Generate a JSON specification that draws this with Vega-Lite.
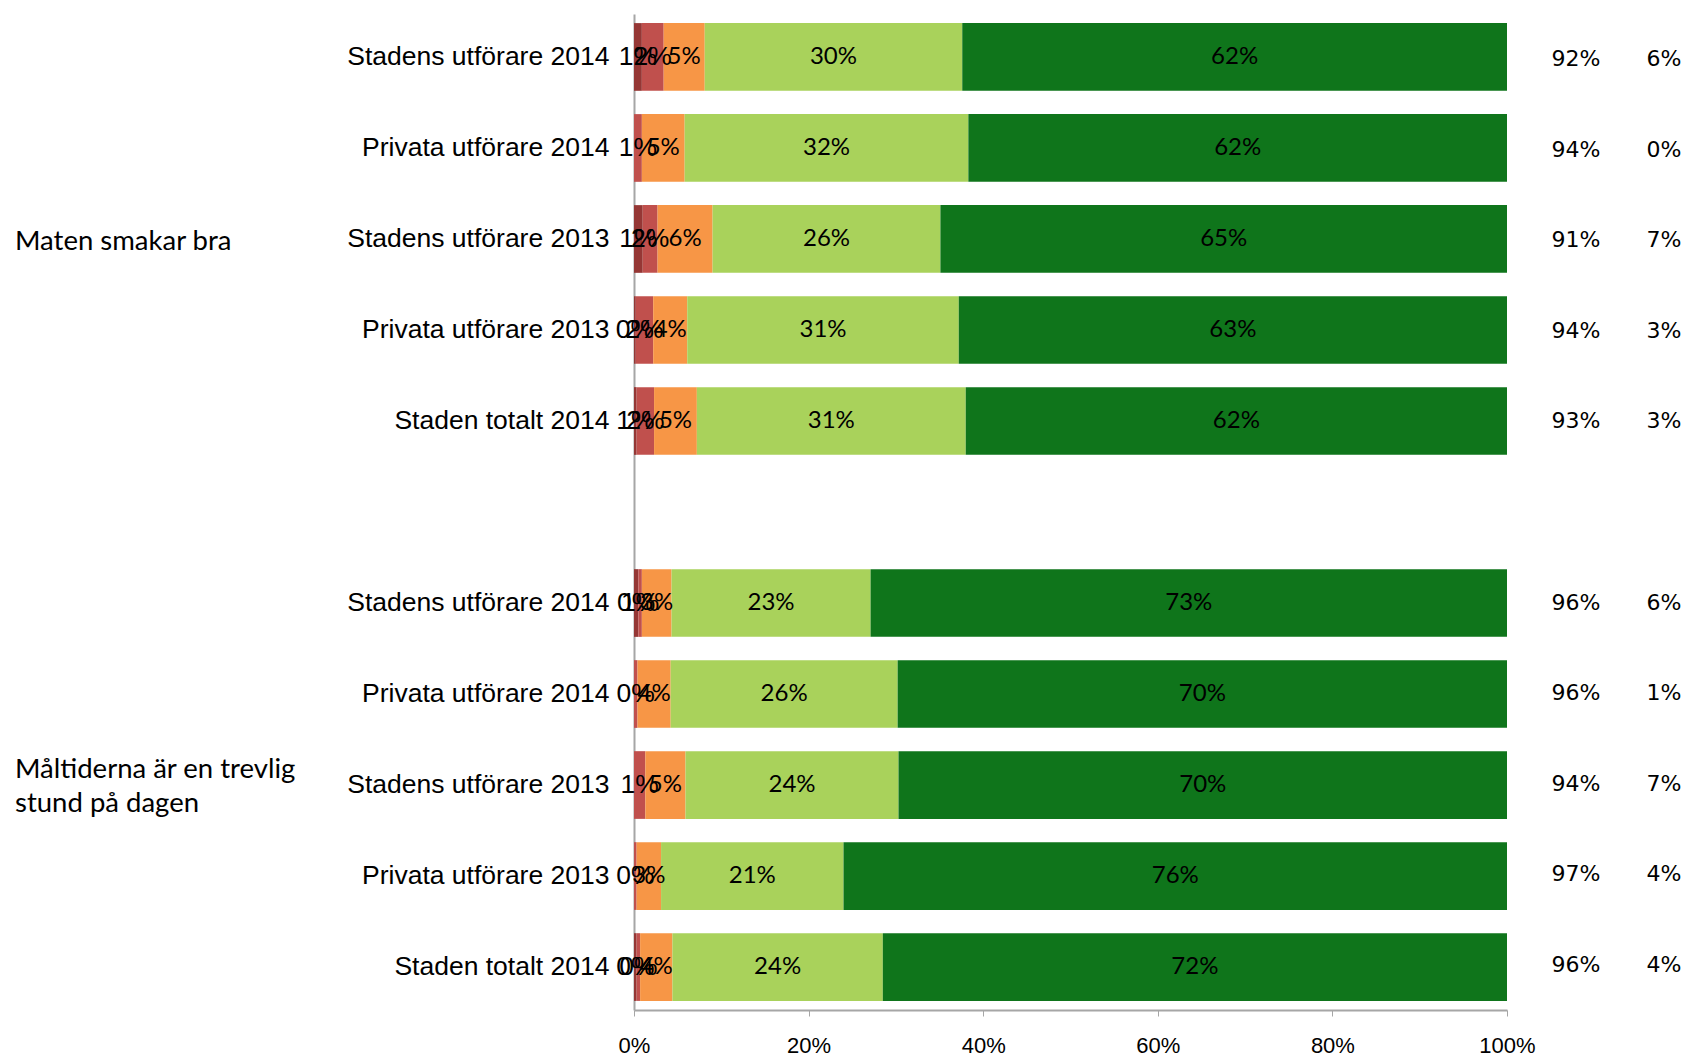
{
  "$schema": "https://vega.github.io/schema/vega-lite/v6.json",
  "padding": {"left": 0, "top": 14, "right": 0, "bottom": 0},
  "background": "white",
  "config": {"view": {"stroke": null}},
  "bounds": "full",
  "spacing": 0,
  "datasets": {
    "bars": [
      {"key": "a|Stadens utförare 2014", "cat": 1, "value": 0.9, "label": "1%"},
      {"key": "a|Stadens utförare 2014", "cat": 2, "value": 2.5, "label": "2%"},
      {"key": "a|Stadens utförare 2014", "cat": 3, "value": 4.7, "label": "5%"},
      {"key": "a|Stadens utförare 2014", "cat": 4, "value": 29.5, "label": "30%"},
      {"key": "a|Stadens utförare 2014", "cat": 5, "value": 62.4, "label": "62%"},
      {"key": "b|Privata utförare 2014", "cat": 2, "value": 0.9, "label": "1%"},
      {"key": "b|Privata utförare 2014", "cat": 3, "value": 4.9, "label": "5%"},
      {"key": "b|Privata utförare 2014", "cat": 4, "value": 32.5, "label": "32%"},
      {"key": "b|Privata utförare 2014", "cat": 5, "value": 61.7, "label": "62%"},
      {"key": "c|Stadens utförare 2013", "cat": 1, "value": 1.0, "label": "1%"},
      {"key": "c|Stadens utförare 2013", "cat": 2, "value": 1.7, "label": "2%"},
      {"key": "c|Stadens utförare 2013", "cat": 3, "value": 6.3, "label": "6%"},
      {"key": "c|Stadens utförare 2013", "cat": 4, "value": 26.1, "label": "26%"},
      {"key": "c|Stadens utförare 2013", "cat": 5, "value": 64.9, "label": "65%"},
      {"key": "d|Privata utförare 2013", "cat": 1, "value": 0.2, "label": "0%"},
      {"key": "d|Privata utförare 2013", "cat": 2, "value": 2.0, "label": "2%"},
      {"key": "d|Privata utförare 2013", "cat": 3, "value": 3.9, "label": "4%"},
      {"key": "d|Privata utförare 2013", "cat": 4, "value": 31.1, "label": "31%"},
      {"key": "d|Privata utförare 2013", "cat": 5, "value": 62.8, "label": "63%"},
      {"key": "e|Staden totalt 2014", "cat": 1, "value": 0.3, "label": "1%"},
      {"key": "e|Staden totalt 2014", "cat": 2, "value": 2.0, "label": "2%"},
      {"key": "e|Staden totalt 2014", "cat": 3, "value": 4.9, "label": "5%"},
      {"key": "e|Staden totalt 2014", "cat": 4, "value": 30.8, "label": "31%"},
      {"key": "e|Staden totalt 2014", "cat": 5, "value": 62.0, "label": "62%"},
      {"key": "g|Stadens utförare 2014", "cat": 1, "value": 0.5, "label": "0%"},
      {"key": "g|Stadens utförare 2014", "cat": 2, "value": 0.4, "label": "1%"},
      {"key": "g|Stadens utförare 2014", "cat": 3, "value": 3.4, "label": "3%"},
      {"key": "g|Stadens utförare 2014", "cat": 4, "value": 22.8, "label": "23%"},
      {"key": "g|Stadens utförare 2014", "cat": 5, "value": 72.9, "label": "73%"},
      {"key": "h|Privata utförare 2014", "cat": 2, "value": 0.4, "label": "0%"},
      {"key": "h|Privata utförare 2014", "cat": 3, "value": 3.8, "label": "4%"},
      {"key": "h|Privata utförare 2014", "cat": 4, "value": 26.0, "label": "26%"},
      {"key": "h|Privata utförare 2014", "cat": 5, "value": 69.8, "label": "70%"},
      {"key": "i|Stadens utförare 2013", "cat": 2, "value": 1.3, "label": "1%"},
      {"key": "i|Stadens utförare 2013", "cat": 3, "value": 4.6, "label": "5%"},
      {"key": "i|Stadens utförare 2013", "cat": 4, "value": 24.4, "label": "24%"},
      {"key": "i|Stadens utförare 2013", "cat": 5, "value": 69.7, "label": "70%"},
      {"key": "j|Privata utförare 2013", "cat": 2, "value": 0.3, "label": "0%"},
      {"key": "j|Privata utförare 2013", "cat": 3, "value": 2.8, "label": "3%"},
      {"key": "j|Privata utförare 2013", "cat": 4, "value": 20.9, "label": "21%"},
      {"key": "j|Privata utförare 2013", "cat": 5, "value": 76.0, "label": "76%"},
      {"key": "k|Staden totalt 2014", "cat": 1, "value": 0.3, "label": "0%"},
      {"key": "k|Staden totalt 2014", "cat": 2, "value": 0.4, "label": "0%"},
      {"key": "k|Staden totalt 2014", "cat": 3, "value": 3.7, "label": "4%"},
      {"key": "k|Staden totalt 2014", "cat": 4, "value": 24.1, "label": "24%"},
      {"key": "k|Staden totalt 2014", "cat": 5, "value": 71.5, "label": "72%"}
    ],
    "totals": [
      {"key": "a|Stadens utförare 2014", "positive": "92%", "other": "6%"},
      {"key": "b|Privata utförare 2014", "positive": "94%", "other": "0%"},
      {"key": "c|Stadens utförare 2013", "positive": "91%", "other": "7%"},
      {"key": "d|Privata utförare 2013", "positive": "94%", "other": "3%"},
      {"key": "e|Staden totalt 2014", "positive": "93%", "other": "3%"},
      {"key": "g|Stadens utförare 2014", "positive": "96%", "other": "6%"},
      {"key": "h|Privata utförare 2014", "positive": "96%", "other": "1%"},
      {"key": "i|Stadens utförare 2013", "positive": "94%", "other": "7%"},
      {"key": "j|Privata utförare 2013", "positive": "97%", "other": "4%"},
      {"key": "k|Staden totalt 2014", "positive": "96%", "other": "4%"}
    ],
    "groups": [
      {"key": "c|Stadens utförare 2013", "label": "Maten smakar bra"},
      {"key": "i|Stadens utförare 2013", "label": "Måltiderna är en trevlig\nstund på dagen"}
    ]
  },
  "hconcat": [
    {
      "bounds": "flush",
      "spacing": 604,
      "hconcat": [
        {
          "width": 30,
          "height": 996,
          "data": {"name": "groups"},
          "encoding": {
            "y": {"field": "key", "type": "nominal", "axis": null,
              "scale": {"domain": ["a|Stadens utförare 2014", "b|Privata utförare 2014", "c|Stadens utförare 2013", "d|Privata utförare 2013", "e|Staden totalt 2014", "f|", "g|Stadens utförare 2014", "h|Privata utförare 2014", "i|Stadens utförare 2013", "j|Privata utförare 2013", "k|Staden totalt 2014"], "paddingInner": 0.256, "paddingOuter": 0.1}},
            "text": {"field": "label"}
          },
          "layer": [
            {
              "transform": [{"filter": "datum.key === 'c|Stadens utförare 2013'"}],
              "mark": {"type": "text", "align": "left", "baseline": "middle", "font": "Lato", "fontSize": 27.5, "dy": 2, "color": "black"}
            },
            {
              "transform": [{"filter": "datum.key === 'i|Stadens utförare 2013'"}],
              "mark": {"type": "text", "align": "left", "baseline": "middle", "font": "Lato", "fontSize": 27.5, "lineHeight": 34, "lineBreak": "\n", "dy": -14, "color": "black"}
            }
          ]
        },
        {
          "width": 873,
          "height": 996,
          "data": {"name": "bars"},
          "encoding": {
            "y": {"field": "key", "type": "nominal", "sort": null,
              "scale": {"domain": ["a|Stadens utförare 2014", "b|Privata utförare 2014", "c|Stadens utförare 2013", "d|Privata utförare 2013", "e|Staden totalt 2014", "f|", "g|Stadens utförare 2014", "h|Privata utförare 2014", "i|Stadens utförare 2013", "j|Privata utförare 2013", "k|Staden totalt 2014"], "paddingInner": 0.256, "paddingOuter": 0.1},
              "axis": {"title": null, "labelExpr": "substring(datum.value, 2)", "ticks": false, "labelPadding": 25, "domainColor": "#a6a6a6", "domainWidth": 2, "labelFont": "Liberation Sans", "labelFontSize": 26.5, "labelColor": "black", "labelLimit": 0}}
          },
          "layer": [
            {
              "mark": {"type": "bar"},
              "encoding": {
                "x": {"field": "value", "type": "quantitative", "stack": "zero",
                  "scale": {"domain": [0, 100], "nice": false},
                  "axis": {"title": null, "values": [0, 20, 40, 60, 80, 100], "labelExpr": "datum.value + '%'", "labelFlush": false, "grid": false, "domainColor": "#a6a6a6", "domainWidth": 2, "tickColor": "#a6a6a6", "tickSize": 6, "labelPadding": 19, "labelFont": "Liberation Sans", "labelFontSize": 22, "labelColor": "black"}},
                "color": {"field": "cat", "type": "nominal", "legend": null,
                  "scale": {"domain": [1, 2, 3, 4, 5], "range": ["#953735", "#C0504D", "#F79646", "#A9D25B", "#0F751B"]}},
                "order": {"field": "cat", "sort": "ascending"}
              }
            },
            {
              "mark": {"type": "text", "baseline": "middle", "align": "center", "font": "Liberation Sans", "fontSize": 26.5, "color": "black"},
              "encoding": {
                "x": {"field": "value", "type": "quantitative", "stack": "zero", "bandPosition": 0.5},
                "detail": {"field": "cat"},
                "order": {"field": "cat", "sort": "ascending"},
                "text": {"condition": {"test": "datum.cat <= 2", "field": "label"}, "value": ""}
              }
            },
            {
              "mark": {"type": "text", "baseline": "middle", "align": "center", "font": "Lato", "fontSize": 24, "color": "black"},
              "encoding": {
                "x": {"field": "value", "type": "quantitative", "stack": "zero", "bandPosition": 0.5},
                "detail": {"field": "cat"},
                "order": {"field": "cat", "sort": "ascending"},
                "text": {"condition": {"test": "datum.cat >= 3", "field": "label"}, "value": ""}
              }
            }
          ]
        }
      ]
    },
    {
      "width": 80,
      "height": 996,
      "data": {"name": "totals"},
      "mark": {"type": "text", "align": "center", "baseline": "middle", "font": "DejaVu Sans", "fontSize": 22, "color": "black"},
      "encoding": {
        "y": {"field": "key", "type": "nominal", "axis": null,
          "scale": {"domain": ["a|Stadens utförare 2014", "b|Privata utförare 2014", "c|Stadens utförare 2013", "d|Privata utförare 2013", "e|Staden totalt 2014", "f|", "g|Stadens utförare 2014", "h|Privata utförare 2014", "i|Stadens utförare 2013", "j|Privata utförare 2013", "k|Staden totalt 2014"], "paddingInner": 0.256, "paddingOuter": 0.1}},
        "text": {"field": "positive"}
      }
    },
    {
      "width": 61,
      "height": 996,
      "data": {"name": "totals"},
      "mark": {"type": "text", "align": "left", "baseline": "middle", "font": "DejaVu Sans", "fontSize": 22, "color": "black"},
      "encoding": {
        "y": {"field": "key", "type": "nominal", "axis": null,
          "scale": {"domain": ["a|Stadens utförare 2014", "b|Privata utförare 2014", "c|Stadens utförare 2013", "d|Privata utförare 2013", "e|Staden totalt 2014", "f|", "g|Stadens utförare 2014", "h|Privata utförare 2014", "i|Stadens utförare 2013", "j|Privata utförare 2013", "k|Staden totalt 2014"], "paddingInner": 0.256, "paddingOuter": 0.1}},
        "text": {"field": "other"}
      }
    }
  ]
}
